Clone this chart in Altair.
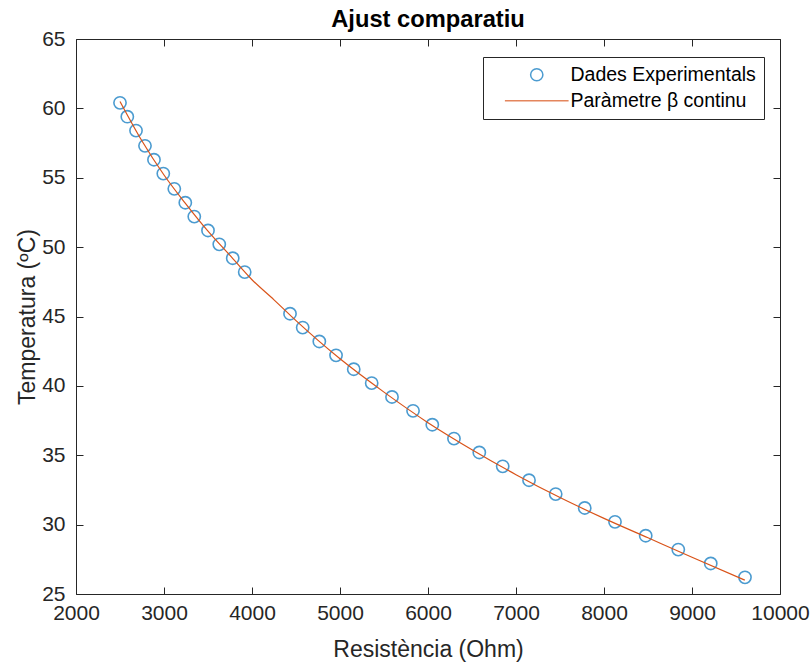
import altair as alt
import pandas as pd

R_exp = [2500, 2583, 2682, 2784, 2886, 2992, 3117, 3242, 3344, 3500, 3628, 3781, 3917,
         4432, 4576, 4765, 4955, 5156, 5360, 5591, 5830, 6049, 6295, 6583, 6849, 7148,
         7451, 7781, 8125, 8474, 8844, 9213, 9602]
T_exp = [60.4, 59.4, 58.4, 57.3, 56.3, 55.3, 54.2, 53.2, 52.2, 51.2, 50.2, 49.2, 48.2,
         45.2, 44.2, 43.2, 42.2, 41.2, 40.2, 39.2, 38.2, 37.2, 36.2, 35.2, 34.2, 33.2,
         32.2, 31.2, 30.2, 29.2, 28.2, 27.2, 26.2]

# Fitted curve
R_fit = [2500, 2750, 3000, 3250, 3500, 3750, 4000, 4250, 4500, 5000, 5500, 6000, 6500,
         7000, 7500, 8000, 8500, 9000, 9600]
T_fit = [60.5, 57.65, 55.2, 53.1, 51.15, 49.4, 47.65, 46.2, 44.7, 41.95, 39.55, 37.35,
         35.4, 33.6, 31.95, 30.45, 29.05, 27.65, 26.0]

series_names = ["Dades Experimentals", "Paràmetre β continu"]
series_colors = ["#0072BD", "#D95319"]
x_ticks = [2000, 3000, 4000, 5000, 6000, 7000, 8000, 9000, 10000]
y_ticks = [25, 30, 35, 40, 45, 50, 55, 60, 65]

df_exp = pd.DataFrame({"R": R_exp, "T": T_exp, "serie": series_names[0]})
df_fit = pd.DataFrame({"R": R_fit, "T": T_fit, "serie": series_names[1]})

FONT = "Liberation Sans"
TXT = "#262626"

xscale = alt.Scale(domain=[2000, 10000], nice=False, zero=False)
yscale = alt.Scale(domain=[25, 65], nice=False, zero=False)

legend = alt.Legend(
    orient="none", legendX=407, legendY=18,
    strokeColor=TXT, fillColor="white", padding=8, cornerRadius=0,
    labelFont=FONT, labelFontSize=19.5, labelColor="black",
    symbolOffset=36, labelOffset=24, rowPadding=5,
    symbolSize=150, symbolStrokeWidth=1.5, labelLimit=400,
)

color = alt.Color("serie:N", title=None,
                  scale=alt.Scale(domain=series_names, range=series_colors),
                  legend=legend)
shape = alt.Shape("serie:N", title=None,
                  scale=alt.Scale(domain=series_names, range=["circle", "M-5.2,0H5.2"]),
                  legend=legend)

common_axis = dict(domain=False, ticks=True, tickSize=7, offset=-7, tickColor=TXT,
                   tickWidth=1, grid=False, labelFlush=False, labelOverlap=False)

points = alt.Chart(df_exp).mark_point(filled=False, size=150, strokeWidth=1.6).encode(
    x=alt.X("R:Q", scale=xscale,
            axis=alt.Axis(orient="bottom", values=x_ticks, format="d",
                          title="Resistència (Ohm)", labelFont=FONT, labelFontSize=21,
                          labelColor=TXT, labelPadding=8, titleFont=FONT, titleFontSize=23,
                          titleFontWeight="normal", titleColor=TXT, titlePadding=15,
                          **common_axis)),
    y=alt.Y("T:Q", scale=yscale,
            axis=alt.Axis(orient="left", values=y_ticks, format="d",
                          title="Temperatura (ºC)", labelFont=FONT, labelFontSize=21,
                          labelColor=TXT, labelPadding=11, titleFont=FONT, titleFontSize=23,
                          titleFontWeight="normal", titleColor=TXT, titlePadding=2,
                          **common_axis)),
    color=color,
    shape=shape,
)

line = alt.Chart(df_fit).mark_line(strokeWidth=1.2, interpolate="monotone").encode(
    x=alt.X("R:Q", scale=xscale,
            axis=alt.Axis(orient="top", values=x_ticks, labels=False, title=None, **common_axis)),
    y=alt.Y("T:Q", scale=yscale,
            axis=alt.Axis(orient="right", values=y_ticks, labels=False, title=None, **common_axis)),
    color=color,
)

chart = alt.layer(points, line).resolve_axis(x="independent", y="independent").properties(
    width=704, height=555,
    title=alt.Title("Ajust comparatiu", fontSize=23.7, font=FONT, fontWeight="bold",
                    color="black", offset=-4, anchor="middle"),
    autosize=alt.AutoSizeParams(type="none"),
    padding={"left": 76, "top": 39, "right": 32, "bottom": 69},
).configure(background="white").configure_view(stroke=TXT, strokeWidth=1)

chart.save("out.html", embed_options={"renderer": "svg", "actions": False})
